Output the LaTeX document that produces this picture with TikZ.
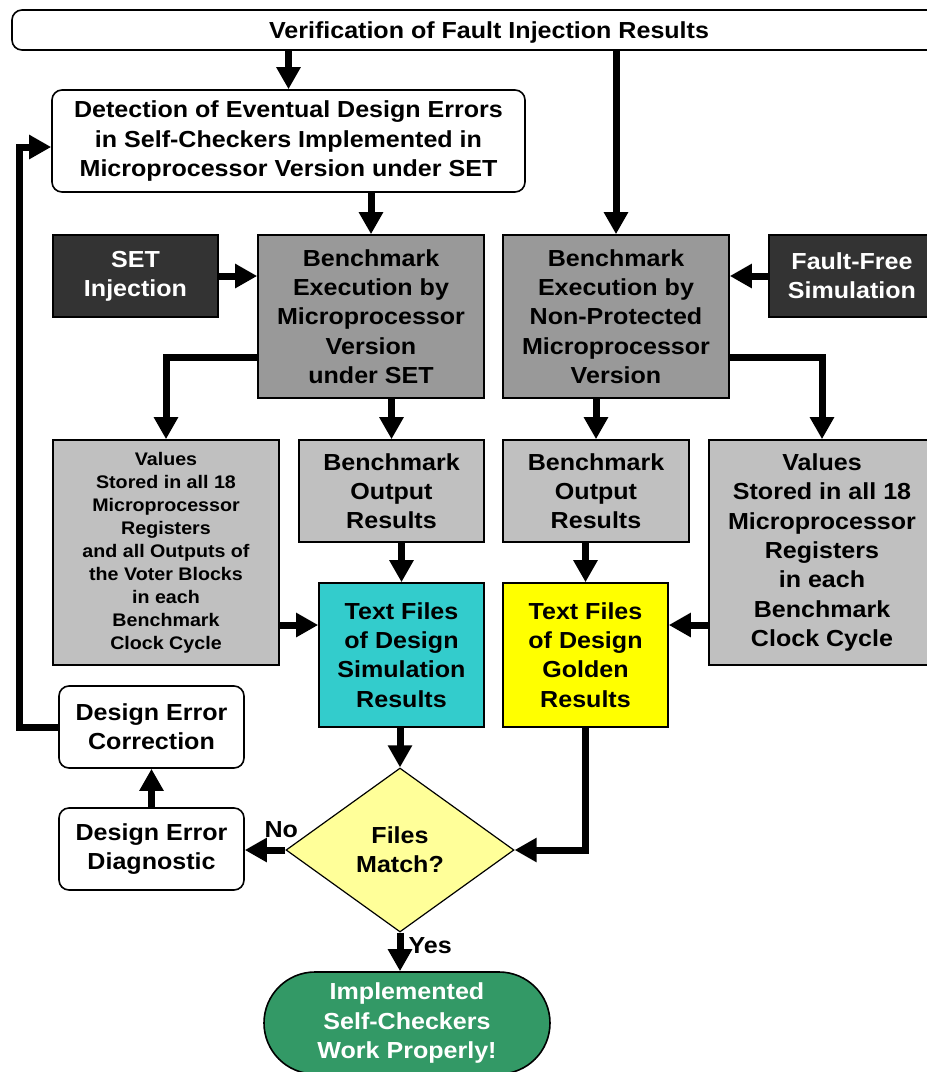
\documentclass[tikz,border=0pt]{standalone}
\usepackage{fontspec}
\setmainfont{Liberation Sans}[FakeStretch=1.08]
\usetikzlibrary{arrows.meta,shapes.geometric}
\definecolor{darkbox}{HTML}{333333}
\definecolor{midgray}{HTML}{999999}
\definecolor{lightgray}{HTML}{C0C0C0}
\definecolor{simcyan}{HTML}{33CCCC}
\definecolor{goldyellow}{HTML}{FFFF00}
\definecolor{decision}{HTML}{FFFF99}
\definecolor{okgreen}{HTML}{339966}
\begin{document}
\begin{tikzpicture}[x=1pt,y=-1pt,
  every node/.style={font=\bfseries\fontsize{23.2}{29.3}\selectfont, align=center, inner sep=0pt},
  box/.style={draw=black, line width=1.6pt},
  roundbox/.style={box, fill=white, rounded corners=10pt},
  darkbox/.style={box, fill=darkbox, text=white},
  execbox/.style={box, fill=midgray},
  databox/.style={box, fill=lightgray},
  smalltext/.style={font=\bfseries\fontsize{18.2}{23}\selectfont},
  arr/.style={line width=7pt, -{Triangle[length=22pt,width=23pt]}}]
\useasboundingbox (0,0) rectangle (927,1072);

% top level
\node[roundbox, text depth=0pt, minimum width=954pt, minimum height=40pt] (title) at (489,30) {Verification of Fault Injection Results};
\node[roundbox, minimum width=473pt, minimum height=102pt] (det) at (288.5,141)
  {Detection of Eventual Design Errors\\in Self-Checkers Implemented in\\Microprocessor Version under SET};

% benchmark execution row
\node[darkbox, minimum width=165pt, minimum height=82pt] (set) at (135.5,276) {SET\\Injection};
\node[execbox, minimum width=226pt, minimum height=163pt] (bset) at (371,316.5)
  {Benchmark\\Execution by\\Microprocessor\\Version\\under SET};
\node[execbox, minimum width=226pt, minimum height=163pt] (np) at (616,316.5)
  {Benchmark\\Execution by\\Non-Protected\\Microprocessor\\Version};
\node[darkbox, minimum width=166pt, minimum height=82pt] (ff) at (852,276) {Fault-Free\\Simulation};

% stored data
\node[databox, smalltext, minimum width=226pt, minimum height=225pt] (valL) at (166,552.5)
  {Values\\Stored in all 18\\Microprocessor\\Registers\\and all Outputs of\\the Voter Blocks\\in each\\Benchmark\\Clock Cycle};
\node[databox, minimum width=185pt, minimum height=102pt] (borL) at (391.5,491) {Benchmark\\Output\\Results};
\node[databox, minimum width=186pt, minimum height=102pt] (borR) at (596,491) {Benchmark\\Output\\Results};
\node[databox, minimum width=226pt, minimum height=225pt] (valR) at (822,552.5)
  {Values\\Stored in all 18\\Microprocessor\\Registers\\in each\\Benchmark\\Clock Cycle};

% result files
\node[box, fill=simcyan, minimum width=165pt, minimum height=144pt] (sim) at (401.5,655)
  {Text Files\\of Design\\Simulation\\Results};
\node[box, fill=goldyellow, minimum width=165pt, minimum height=144pt] (gold) at (585.5,655)
  {Text Files\\of Design\\Golden\\Results};

% decision and correction loop
\node[diamond, draw=black, line width=1.2pt, fill=decision, minimum width=228pt, minimum height=164pt] (dia) at (400,850)
  {Files\\Match?};
\node[roundbox, minimum width=185pt, minimum height=82pt] (diag) at (151.5,849) {Design Error\\Diagnostic};
\node[roundbox, minimum width=185pt, minimum height=82pt] (corr) at (151.5,727) {Design Error\\Correction};
\node[box, fill=okgreen, text=white, rounded corners=51pt, minimum width=286pt, minimum height=102pt] (done) at (407,1023)
  {Implemented\\Self-Checkers\\Work Properly!};

% connectors
\draw[arr] (title.south -| det.north) -- (det.north);
\draw[arr] (title.south -| np.north) -- (np.north);
\draw[arr] (det.south -| bset.north) -- (bset.north);
\draw[arr] (set.east) -- (set.east -| bset.west);
\draw[arr] (ff.west) -- (ff.west -| np.east);
\draw[arr] ([yshift=-40.5pt]bset.west) -| (valL.north);
\draw[arr] ([yshift=-40.5pt]np.east) -| (valR.north);
\draw[arr] (bset.south -| borL.north) -- (borL.north);
\draw[arr] (np.south -| borR.north) -- (borR.north);
\draw[arr] (borL.south -| sim.north) -- (sim.north);
\draw[arr] (borR.south -| gold.north) -- (gold.north);
\path ([yshift=30pt]sim.west) coordinate (simin) ([yshift=30pt]gold.east) coordinate (goldin);
\draw[arr] (valL.east |- simin) -- (simin);
\draw[arr] (valR.west |- goldin) -- (goldin);
\draw[arr] (sim.south -| dia.north) -- (dia.north);
\draw[arr] (gold.south) |- (dia.east);
\draw[arr] (dia.west) node[anchor=south east, xshift=16pt, yshift=9pt] {No} -- (dia.west -| diag.east);
\draw[arr] (diag.north) -- (corr.south);
\draw[arr] (corr.west) -- ++(-39,0) |- ([yshift=-6pt]det.west);
\draw[arr] (dia.south) -- node[pos=0.35, anchor=west, xshift=5pt] {Yes} (dia.south |- done.north);
\end{tikzpicture}
\end{document}
